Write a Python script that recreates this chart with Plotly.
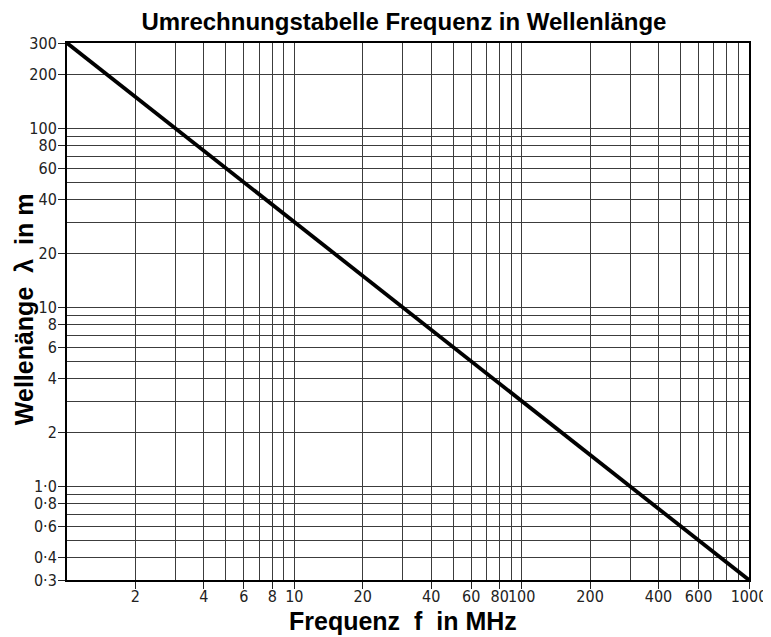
import plotly.graph_objects as go

# Data: frequency (MHz) and wavelength (m), lambda = 300 / f
freq_mhz = [1, 1000]
wavelength_m = [300, 0.3]

x_tickvals = [2, 4, 6, 8, 10, 20, 40, 60, 80, 100, 200, 400, 600, 1000]
x_ticktext = ["2", "4", "6", "8", "10", "20", "40", "60", "80", "100", "200", "400", "600", "1000"]
x_minor = [3, 5, 7, 9, 30, 50, 70, 90, 300, 500, 700, 800, 900]

y_tickvals = [0.3, 0.4, 0.6, 0.8, 1.0, 2, 4, 6, 8, 10, 20, 40, 60, 80, 100, 200, 300]
y_ticktext = ["0·3", "0·4", "0·6", "0·8", "1·0", "2", "4", "6", "8", "10", "20", "40", "60", "80", "100", "200", "300"]
y_minor = [0.5, 0.7, 0.9, 3, 5, 7, 9, 30, 50, 70, 90]

grid_col = "#3c3c3c"
tick_font = dict(family="DejaVu Sans Condensed, DejaVu Sans", size=16, color="#222222")
bold_font = "Liberation Sans, Arial"

fig = go.Figure()
fig.add_trace(go.Scatter(x=freq_mhz, y=wavelength_m, mode="lines",
                         line=dict(color="black", width=3.8), showlegend=False,
                         hoverinfo="skip"))

# page body has an 8px margin, so the figure is sized/offset to compensate
fig.update_layout(
    width=763, height=629,
    margin=dict(l=59, r=22, t=35, b=57),
    paper_bgcolor="white", plot_bgcolor="white",
    title=dict(text="<b>Umrechnungstabelle Frequenz in Wellenlänge</b>",
               x=0.494, xanchor="center", xref="paper", y=0.979, yanchor="middle",
               font=dict(family=bold_font, size=24, color="black")),
    annotations=[
        dict(text="<b>Frequenz  f  in MHz</b>", xref="paper", yref="paper",
             x=0.4927, y=-0.0765, xanchor="center", yanchor="middle",
             showarrow=False, font=dict(family=bold_font, size=25, color="black")),
        dict(text="<b>Wellenänge  λ  in m</b>", xref="paper", yref="paper",
             x=-0.064, y=0.505, xanchor="center", yanchor="middle", textangle=-90,
             showarrow=False, font=dict(family=bold_font, size=25, color="black")),
    ],
)

fig.update_xaxes(
    type="log", range=[0, 3], automargin=False, tickangle=0,
    tickvals=x_tickvals, ticktext=x_ticktext,
    ticks="outside", ticklen=7, tickcolor="#222222", tickwidth=1,
    tickfont=tick_font, ticklabelstandoff=-6,
    showgrid=True, gridcolor=grid_col, gridwidth=1,
    minor=dict(tickvals=x_minor, showgrid=True, gridcolor=grid_col, gridwidth=1, ticks=""),
    showline=True, linecolor="black", linewidth=2, mirror=True,
    zeroline=False,
)

fig.update_yaxes(
    type="log", range=[-0.5228787, 2.4771213], automargin=False, tickangle=0,
    tickvals=y_tickvals, ticktext=y_ticktext,
    ticks="outside", ticklen=7, tickcolor="#222222", tickwidth=1,
    tickfont=tick_font, ticklabelstandoff=-2,
    showgrid=True, gridcolor=grid_col, gridwidth=1,
    minor=dict(tickvals=y_minor, showgrid=True, gridcolor=grid_col, gridwidth=1, ticks=""),
    showline=True, linecolor="black", linewidth=2, mirror=True,
    zeroline=False,
)

fig.write_html("out.html")
